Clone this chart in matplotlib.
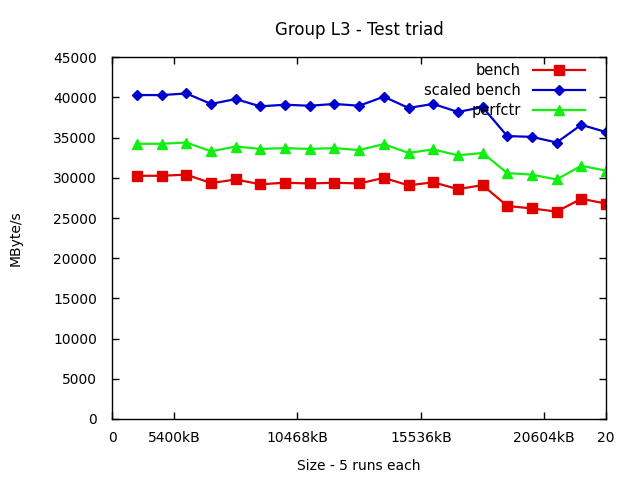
import numpy as np
import matplotlib
matplotlib.use("Agg")
import matplotlib.pyplot as plt

# data (index 1..20)
idx = np.arange(1, 21)
bench = [30.26, 30.26, 30.4, 29.35, 29.8, 29.2, 29.4, 29.3, 29.4, 29.3,
         30.0, 29.07, 29.45, 28.6, 29.1, 26.5, 26.2, 25.8, 27.4, 26.8]
scaled_bench = [40.3, 40.3, 40.5, 39.2, 39.8, 38.9, 39.1, 38.97, 39.2, 38.97,
                40.1, 38.7, 39.2, 38.2, 38.8, 35.2, 35.1, 34.4, 36.6, 35.7]
perfctr = [34.24, 34.24, 34.4, 33.3, 33.9, 33.6, 33.7, 33.6, 33.7, 33.46,
           34.2, 33.1, 33.55, 32.8, 33.1, 30.6, 30.4, 29.8, 31.5, 30.9]
bench = np.array(bench) * 1000
scaled_bench = np.array(scaled_bench) * 1000
perfctr = np.array(perfctr) * 1000

xtick_pos = [0, 2.5, 7.5, 12.5, 17.5, 20]
xtick_labels = ["0", "5400kB", "10468kB", "15536kB", "20604kB", "20"]
yticks = np.arange(0, 45001, 5000)

plt.rcParams['font.family'] = ['DejaVu Sans']
plt.rcParams['font.size'] = 10

fig = plt.figure(figsize=(6.4, 4.8), dpi=100)
ax = fig.add_axes([112.3/640, 61/480, (606-112.3)/640, (419-57.3)/480])

ax.plot(idx, bench, color='#e00000', lw=1.6, marker='s', ms=6.5, label='bench')
ax.plot(idx, scaled_bench, color='#0000cc', lw=1.6, marker='D', ms=5.5, label='scaled bench')
ax.plot(idx, perfctr, color='#11ee11', lw=1.6, marker='^', ms=7.5, label='perfctr')

ax.set_xlim(0, 20)
ax.set_ylim(0, 45000)
ax.set_xticks(xtick_pos)
ax.set_xticklabels(xtick_labels)
ax.set_yticks(yticks)
ax.tick_params(direction='in', length=5, width=1, top=True, right=True)
ax.tick_params(axis='x', pad=9)
ax.tick_params(axis='y', pad=11)
for s in ax.spines.values():
    s.set_linewidth(1)

ax.set_title("Group L3 - Test triad", pad=16)
ax.set_xlabel("Size - 5 runs each", labelpad=10)
ax.set_ylabel("MByte/s", labelpad=22)

ax.legend(loc='upper right', bbox_to_anchor=(585/640, (480-63)/480),
          bbox_transform=fig.transFigure, frameon=False, markerfirst=False,
          handlelength=3.6, handletextpad=0.8, borderpad=0, borderaxespad=0,
          labelspacing=0.33, fontsize=10.5)

fig.savefig("out.png", dpi=100)
